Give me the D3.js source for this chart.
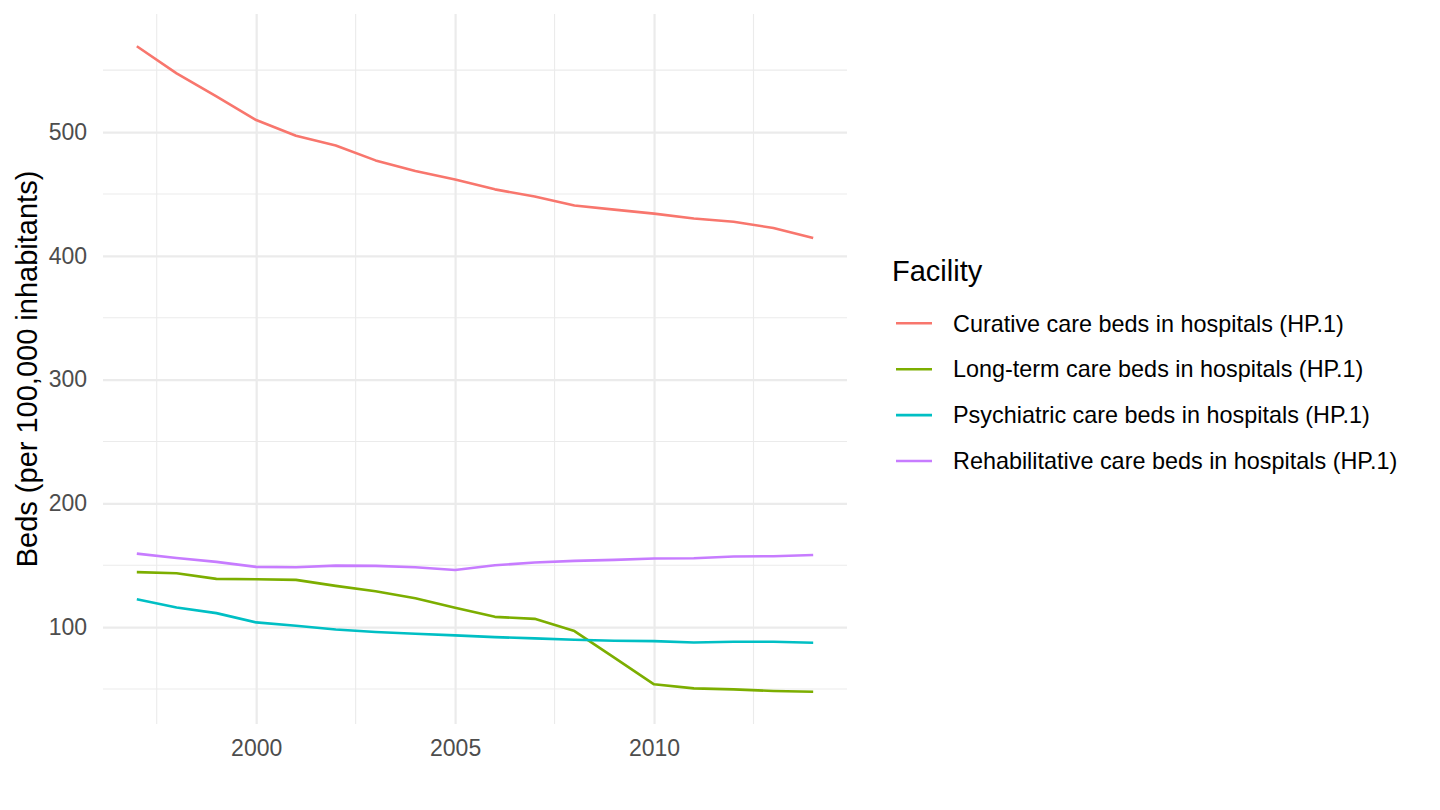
<!DOCTYPE html>
<html>
<head>
<meta charset="utf-8">
<script src="https://cdn.jsdelivr.net/npm/d3@7"></script>
<style>
  html, body { margin: 0; padding: 0; background: #fff; }
  svg text { font-family: "Liberation Sans", Arial, Helvetica, sans-serif; }
</style>
</head>
<body>
<div id="chart"></div>
<script>
// data
const years = [1997, 1998, 1999, 2000, 2001, 2002, 2003, 2004, 2005, 2006, 2007, 2008, 2009, 2010, 2011, 2012, 2013, 2014];
const facilities = [
  'Curative care beds in hospitals (HP.1)',
  'Long-term care beds in hospitals (HP.1)',
  'Psychiatric care beds in hospitals (HP.1)',
  'Rehabilitative care beds in hospitals (HP.1)'
];
const curative = [569.3, 547.4, 528.8, 509.7, 497.0, 489.2, 477.1, 468.5, 461.6, 453.7, 447.9, 440.7, 437.3, 434.1, 430.2, 427.5, 422.5, 414.3];
const longTerm = [144.4, 143.5, 139.0, 138.7, 138.2, 133.3, 129.0, 123.4, 115.6, 108.3, 106.7, 96.8, 75.3, 53.8, 50.5, 49.7, 48.4, 47.8];
const psychiatric = [122.6, 115.9, 111.3, 103.8, 101.1, 98.1, 96.0, 94.6, 93.3, 91.9, 90.9, 89.8, 89.0, 88.7, 87.6, 88.2, 88.2, 87.4];
const rehab = [159.4, 155.9, 152.7, 148.7, 148.4, 149.7, 149.5, 148.4, 146.2, 150.0, 152.2, 153.5, 154.3, 155.4, 155.6, 157.0, 157.3, 158.3];
const xMajor = [2000, 2005, 2010];
const xMinor = [1997.5, 2002.5, 2007.5, 2012.5];
const yMajor = [100, 200, 300, 400, 500];
const yMinor = [50, 150, 250, 350, 450, 550];
const colors = ['#F8766D', '#7CAE00', '#00BFC4', '#C77CFF'];

const seriesValues = [curative, longTerm, psychiatric, rehab];
const series = facilities.map((name, i) => ({
  name,
  color: colors[i],
  values: years.map((yr, j) => ({ year: yr, value: seriesValues[i][j] }))
}));

const W = 1440, H = 810;
const panel = { left: 103, right: 847, top: 14, bottom: 724 };

const svg = d3.select('#chart').append('svg')
  .attr('width', W)
  .attr('height', H);

// ggplot-style 5% expansion
const xExt = d3.extent(years);
const xPad = (xExt[1] - xExt[0]) * 0.05;
const x = d3.scaleLinear()
  .domain([xExt[0] - xPad, xExt[1] + xPad])
  .range([panel.left, panel.right]);

const allVals = seriesValues.flat();
const yExt = d3.extent(allVals);
const yPad = (yExt[1] - yExt[0]) * 0.05;
const y = d3.scaleLinear()
  .domain([yExt[0] - yPad, yExt[1] + yPad])
  .range([panel.bottom, panel.top]);

// minor grid
const grid = svg.append('g').attr('class', 'grid');
grid.selectAll('.ymin').data(yMinor).join('line')
  .attr('x1', panel.left).attr('x2', panel.right)
  .attr('y1', d => y(d)).attr('y2', d => y(d))
  .attr('stroke', '#EBEBEB').attr('stroke-width', 1.1);
grid.selectAll('.xmin').data(xMinor).join('line')
  .attr('y1', panel.top).attr('y2', panel.bottom)
  .attr('x1', d => x(d)).attr('x2', d => x(d))
  .attr('stroke', '#EBEBEB').attr('stroke-width', 1.1);

// axes, major ticks stretched into grid lines
const yAxis = svg.append('g')
  .attr('transform', `translate(${panel.left},0)`)
  .call(d3.axisLeft(y).tickValues(yMajor).tickSize(-(panel.right - panel.left)).tickPadding(16));
const xAxis = svg.append('g')
  .attr('transform', `translate(0,${panel.bottom})`)
  .call(d3.axisBottom(x).tickValues(xMajor).tickFormat(d3.format('d')));

xAxis.selectAll('.tick line').attr('y2', -(panel.bottom - panel.top));
xAxis.selectAll('.tick text').attr('y', 31.5).attr('dy', 0);

[xAxis, yAxis].forEach(ax => {
  ax.attr('font-family', null);
  ax.select('.domain').remove();
  ax.selectAll('.tick line').attr('stroke', '#EBEBEB').attr('stroke-width', 2.2);
  ax.selectAll('.tick text')
    .attr('fill', '#4D4D4D')
    .style('font-size', '23px');
});

// y axis title
svg.append('text')
  .attr('transform', `translate(37,${(panel.top + panel.bottom) / 2}) rotate(-90)`)
  .attr('text-anchor', 'middle')
  .attr('fill', '#000')
  .style('font-size', '29px')
  .text('Beds (per 100,000 inhabitants)');

// lines
const line = d3.line()
  .x(d => x(d.year))
  .y(d => y(d.value));

svg.append('g').selectAll('path').data(series).join('path')
  .attr('d', d => line(d.values))
  .attr('fill', 'none')
  .attr('stroke', d => d.color)
  .attr('stroke-width', 2.6)
  .attr('stroke-linejoin', 'round');

// legend
const legend = svg.append('g').attr('transform', 'translate(892,0)');
legend.append('text')
  .attr('x', 0).attr('y', 280.5)
  .attr('fill', '#000')
  .style('font-size', '29px')
  .text('Facility');

const rowY = d3.scaleLinear().domain([0, 1]).range([323.3, 369.2]);
const items = legend.selectAll('.item').data(series).join('g')
  .attr('class', 'item')
  .attr('transform', (d, i) => `translate(0,${rowY(i)})`);
items.append('line')
  .attr('x1', 4).attr('x2', 40)
  .attr('stroke', d => d.color)
  .attr('stroke-width', 2.6);
items.append('text')
  .attr('x', 61).attr('dy', '0.35em')
  .attr('fill', '#000')
  .style('font-size', '23.4px')
  .text(d => d.name);
</script>
</body>
</html>
